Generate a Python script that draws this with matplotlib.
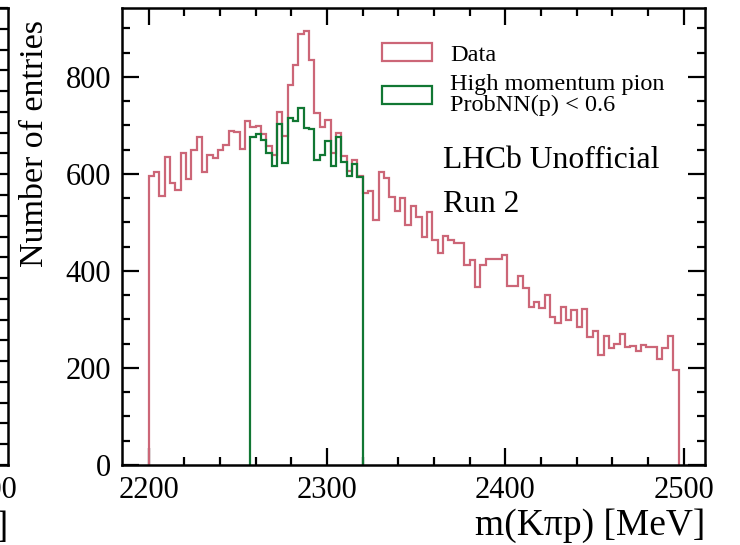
import numpy as np
import matplotlib
matplotlib.use("Agg")
import matplotlib.pyplot as plt
from matplotlib.ticker import MultipleLocator

# binning: 3 MeV bins from 2200 to 2497
bin_edges = 2200 + 3 * np.arange(100)

# all candidates
data_counts = [
    596, 604, 555, 634, 581, 566, 644, 590, 649, 676,
    603, 638, 632, 649, 659, 689, 686, 652, 710, 696,
    698, 683, 658, 639, 727, 678, 783, 825, 889, 895,
    834, 725, 696, 711, 643, 685, 636, 605, 629, 596,
    560, 564, 505, 603, 591, 552, 524, 550, 495, 533,
    512, 471, 522, 464, 436, 473, 464, 457, 457, 412,
    423, 366, 412, 425, 425, 425, 432, 369, 368, 390,
    364, 326, 337, 323, 351, 305, 293, 326, 299, 320,
    285, 321, 263, 276, 227, 265, 242, 249, 271, 244,
    245, 234, 248, 244, 244, 219, 241, 265, 196,
]

# high momentum pion, ProbNN(p) < 0.6, bins 19..39
pion_first_bin = 19
pion_counts = [
    677, 682, 669, 644, 617, 702, 622, 715, 710, 735,
    694, 692, 629, 639, 667, 617, 677, 625, 596, 621, 594,
]

red = "#CC6677"
green = "#117733"

plt.rcParams["font.family"] = ["Liberation Serif", "DejaVu Serif"]

fig = plt.figure(figsize=(7.4, 5.45), dpi=100)
W, H = 740, 545
ax_l, ax_r, ax_t, ax_b = 122, 705, 8, 465
pos = [ax_l / W, (H - ax_b) / H, (ax_r - ax_l) / W, (ax_b - ax_t) / H]


def style_axes(ax):
    ax.tick_params(which="both", direction="in", top=True, right=True, width=1.6)
    ax.tick_params(which="major", length=12, labelsize=22, pad=8)
    ax.tick_params(which="minor", length=6)
    for s in ax.spines.values():
        s.set_linewidth(1.8)
    ax.xaxis.set_major_locator(MultipleLocator(100))
    ax.xaxis.set_minor_locator(MultipleLocator(20))
    ax.yaxis.set_major_locator(MultipleLocator(200))
    ax.yaxis.set_minor_locator(MultipleLocator(50))


# neighbouring panel, mostly cut off on the left
ax0 = fig.add_axes([(8 - (ax_r - ax_l)) / W, pos[1], pos[2], pos[3]])
style_axes(ax0)
ax0.set_xlim(2185.15, 2511.85)
ax0.set_ylim(0, 1100)
ax0.set_xlabel("m(Kπp) [MeV]", fontsize=27, loc="right")

ax = fig.add_axes(pos)
style_axes(ax)

centers = 0.5 * (bin_edges[:-1] + bin_edges[1:])
ax.hist(centers, bins=bin_edges, weights=data_counts, histtype="step",
        color=red, linewidth=1.6, label="Data")
pion_bins = bin_edges[pion_first_bin:pion_first_bin + len(pion_counts) + 1]
ax.hist(centers[pion_first_bin:pion_first_bin + len(pion_counts)], bins=pion_bins,
        weights=pion_counts, histtype="step", color=green, linewidth=1.6,
        label="High momentum pion\nProbNN(p) < 0.6")

ax.set_xlim(2185.15, 2511.85)
ax.set_ylim(0, 942)
ax.set_xlabel("m(Kπp) [MeV]", fontsize=27, loc="right", labelpad=2)
ax.set_ylabel("Number of entries", fontsize=24.5, loc="top")
ax.yaxis.set_label_coords(-0.124, 0.974)

leg = ax.legend(loc="upper left", frameon=False, fontsize=17.5, handlelength=2.05,
                handleheight=0.76, handletextpad=0.74, labelspacing=0.35,
                borderaxespad=0.0, bbox_to_anchor=(0.43, 0.944))
leg.get_texts()[1].set_linespacing(1.0)

ax.text(0.551, 0.667, "LHCb Unofficial", transform=ax.transAxes,
        fontsize=22.8, va="center", ha="left")
ax.text(0.551, 0.569, "Run 2", transform=ax.transAxes,
        fontsize=22.8, va="center", ha="left")

fig.savefig("out.png", dpi=100)
